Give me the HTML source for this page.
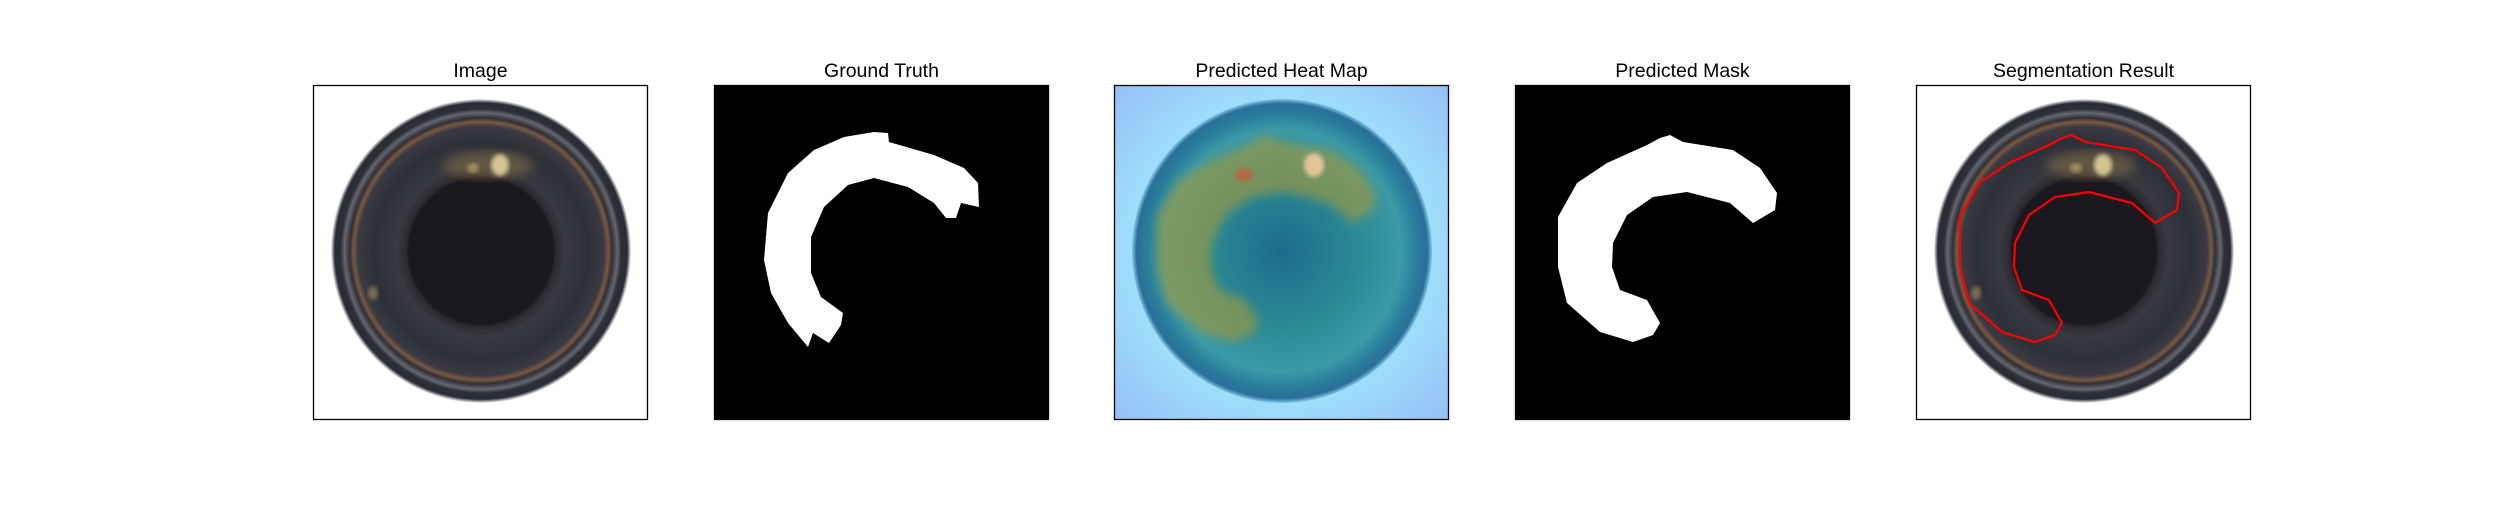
<!DOCTYPE html>
<html><head><meta charset="utf-8">
<style>
html,body{margin:0;padding:0;background:#fff;}
body{width:2500px;height:500px;overflow:hidden;font-family:"Liberation Sans","DejaVu Sans",sans-serif;}
</style></head>
<body>
<svg id="fig" width="2500" height="500" xmlns="http://www.w3.org/2000/svg">
<defs>
  <radialGradient id="ring" cx="50%" cy="50%" r="50%">
    <stop offset="0" stop-color="#1c1820"/>
    <stop offset="0.48" stop-color="#1c1820"/>
    <stop offset="0.5" stop-color="#2c2a30"/>
    <stop offset="0.56" stop-color="#383a40"/>
    <stop offset="0.72" stop-color="#2e3038"/>
    <stop offset="0.82" stop-color="#3a3a42"/>
    <stop offset="0.85" stop-color="#7a5840"/>
    <stop offset="0.875" stop-color="#2e3036"/>
    <stop offset="0.91" stop-color="#66666e"/>
    <stop offset="0.935" stop-color="#2e3038"/>
    <stop offset="0.975" stop-color="#2a2c34"/>
    <stop offset="1" stop-color="#f6f6f8"/>
  </radialGradient>
  <radialGradient id="heatbg" cx="50%" cy="50%" r="72%">
    <stop offset="0.6" stop-color="#9fe0fa"/>
    <stop offset="1" stop-color="#95bdf7"/>
  </radialGradient>
  <radialGradient id="heatring" cx="50%" cy="50%" r="50%">
    <stop offset="0" stop-color="#1e6b8c"/>
    <stop offset="0.5" stop-color="#2a8a94"/>
    <stop offset="0.8" stop-color="#3a9aa6"/>
    <stop offset="0.9" stop-color="#2a7e9c"/>
    <stop offset="0.97" stop-color="#2a6f98"/>
    <stop offset="1" stop-color="#7fc6e6"/>
  </radialGradient>
  <filter id="blur4"><feGaussianBlur stdDeviation="5"/></filter>
  <filter id="blur2"><feGaussianBlur stdDeviation="2"/></filter>
</defs>
</svg>
<script>
// panel layout labels
const titles = ["Image","Ground Truth","Predicted Heat Map","Predicted Mask","Segmentation Result"];
// ground-truth mask outline (panel-local px)
const gtX = [160,174,175,220,250,264,265,247,242,232,220,194,160,134,110,97,97,107,129,127,115,99,94,74,57,50,54,74,100,130];
const gtY = [47,48,57,70,83,98,122,118,133,133,118,102,93,100,122,152,188,212,228,240,258,248,262,238,208,175,128,88,65,52];
// predicted mask outline (panel-local px)
const pmX = [155,168,218,245,262,260,238,215,172,138,112,98,97,105,132,145,138,118,85,52,43,43,62,92,132,145];
const pmY = [50,57,65,83,108,125,138,118,107,112,130,158,182,205,215,238,250,257,247,218,182,132,98,78,60,53];

const NS="http://www.w3.org/2000/svg";
const fig=document.getElementById('fig');
const lefts=[313,714,1114,1515,1916];
const top0=85, S=335;
function el(t,a,p){const e=document.createElementNS(NS,t);for(const k in a)e.setAttribute(k,a[k]);(p||fig).appendChild(e);return e;}
function pathOf(xs,ys){let d='';for(let i=0;i<xs.length;i++)d+=(i?'L':'M')+xs[i]+' '+ys[i];return d+'Z';}
function bottle(g){
  const c=el('ellipse',{cx:168,cy:166,rx:150,ry:152,fill:'url(#ring)'},g);
  
  
  const gl=el('ellipse',{cx:175,cy:80,rx:45,ry:14,fill:'#8a7448',opacity:0.5,filter:'url(#blur4)'},g);
  
  
  el('ellipse',{cx:187,cy:80,rx:9,ry:11,fill:'#e8d8a0',opacity:0.85,filter:'url(#blur2)'},g);
  el('ellipse',{cx:160,cy:83,rx:6,ry:5,fill:'#c8b070',opacity:0.6,filter:'url(#blur2)'},g);
  el('ellipse',{cx:60,cy:208,rx:5,ry:7,fill:'#a89060',opacity:0.6,filter:'url(#blur2)'},g);
}
titles.forEach((t,i)=>{
  const g=el('g',{transform:`translate(${lefts[i]},${top0})`});
  
  
  const cp=el('clipPath',{id:'cp'+i},g);el('rect',{x:0,y:0,width:S,height:S},cp);
  const inner=el('g',{'clip-path':`url(#cp${i})`},g);
  if(i===0||i===4){el('rect',{x:0,y:0,width:S,height:S,fill:'#fff'},inner);bottle(inner);}
  if(i===1||i===3){
    el('rect',{x:0,y:0,width:S,height:S,fill:'#000'},inner);
    const m=el('path',{d:i===1?pathOf(gtX,gtY):pathOf(pmX,pmY),fill:'#fff'},inner);
    
    
  }
  if(i===2){
    el('rect',{x:0,y:0,width:S,height:S,fill:'url(#heatbg)'},inner);
    const h=el('ellipse',{cx:168,cy:166,rx:150,ry:152,fill:'url(#heatring)'},inner);
    
    
    const hm=el('path',{d:pathOf(pmX,pmY),fill:'#a89a38',opacity:0.6,filter:'url(#blur4)'},inner);
    
    
    el('ellipse',{cx:200,cy:80,rx:10,ry:12,fill:'#f0c8a0',opacity:0.9,filter:'url(#blur2)'},inner);
    el('ellipse',{cx:130,cy:90,rx:9,ry:7,fill:'#c06040',opacity:0.8,filter:'url(#blur2)'},inner);
  }
  if(i===4){
    const ct=el('path',{d:pathOf(pmX.map(x=>x+1),pmY),fill:'none',stroke:'#ff0000','stroke-width':2.2},inner);
    
    
  }
  const fr=el('rect',{x:0.5,y:0.5,width:S-1,height:S-1,fill:'none',stroke:'#000','stroke-width':1.3},g);
  
  
  const tx=el('text',{x:S/2,y:-8,'text-anchor':'middle','font-size':19.5,fill:'#000'},g);
  tx.textContent=t;
  
  
});
</script>
</body></html>
